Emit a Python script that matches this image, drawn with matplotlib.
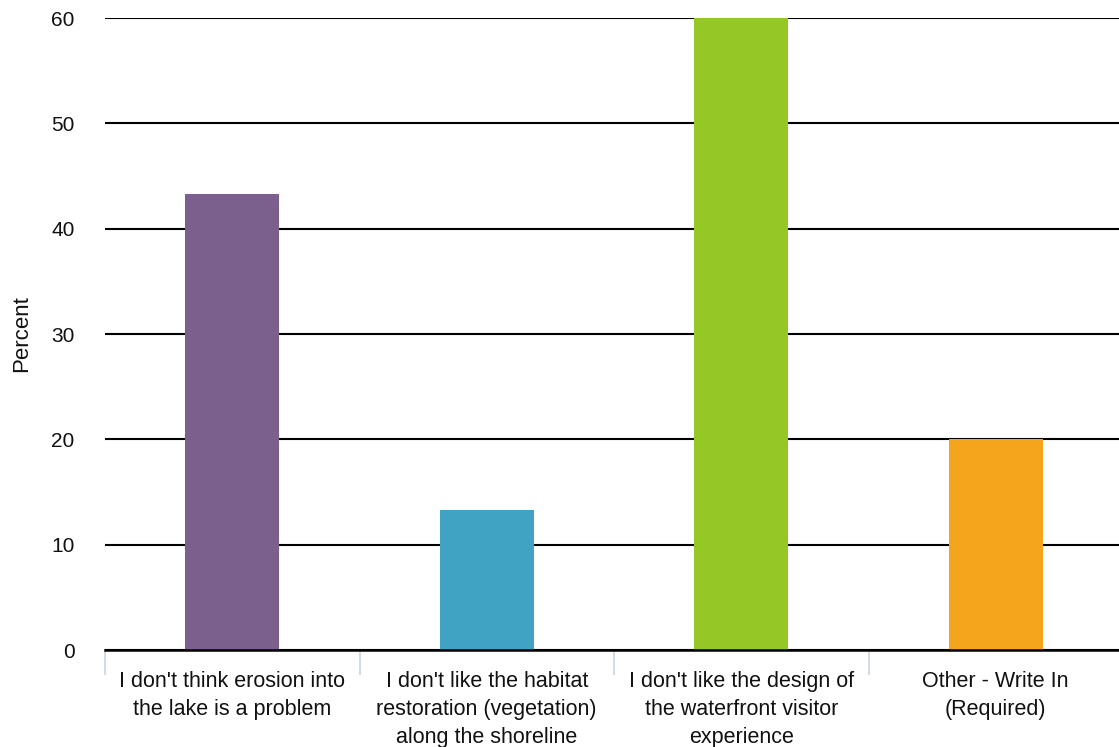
import matplotlib.pyplot as plt

categories = [
    "I don't think erosion into\nthe lake is a problem",
    "I don't like the habitat\nrestoration (vegetation)\nalong the shoreline",
    "I don't like the design of\nthe waterfront visitor\nexperience",
    "Other - Write In\n(Required)",
]
percent = [43.3, 13.3, 60.0, 20.0]
colors = ["#7b608e", "#41a3c4", "#95c826", "#f4a51b"]
yticks = [0, 10, 20, 30, 40, 50, 60]

plt.rcParams["font.family"] = ["Liberation Sans", "DejaVu Sans"]

fig = plt.figure(figsize=(11.19, 7.47), dpi=100)
ax = fig.add_axes([105 / 1119, 97 / 747, 1018 / 1119, 632 / 747])

x = range(len(categories))
ax.bar(x, percent, width=0.37, color=colors, zorder=3)

ax.set_xlim(-0.5, len(categories) - 0.5)
ax.set_ylim(0, 60)
ax.set_yticks(yticks)
ax.set_yticklabels([str(v) for v in yticks], fontsize=15, color="#111111")
ax.tick_params(axis="y", length=0, pad=22)
ax.yaxis.grid(True, color="black", linewidth=1.5, zorder=1)

# category labels centered, ticks at category boundaries
ax.set_xticks(list(x))
ax.set_xticklabels(categories, fontsize=15.5, linespacing=1.43, color="#111111")
ax.tick_params(axis="x", length=0, pad=15)
ax.set_xticks([i - 0.5 for i in range(len(categories) + 1)], minor=True)
ax.tick_params(axis="x", which="minor", length=18, width=1.2, color="#c8d4e8")

for side in ["top", "right", "left"]:
    ax.spines[side].set_visible(False)
ax.spines["bottom"].set_linewidth(1.8)
ax.spines["bottom"].set_zorder(4)

fig.text(22 / 1119, 1 - 334 / 747, "Percent", rotation=90, fontsize=16,
         ha="center", va="center", color="#111111")

fig.savefig("out.png", dpi=100)
